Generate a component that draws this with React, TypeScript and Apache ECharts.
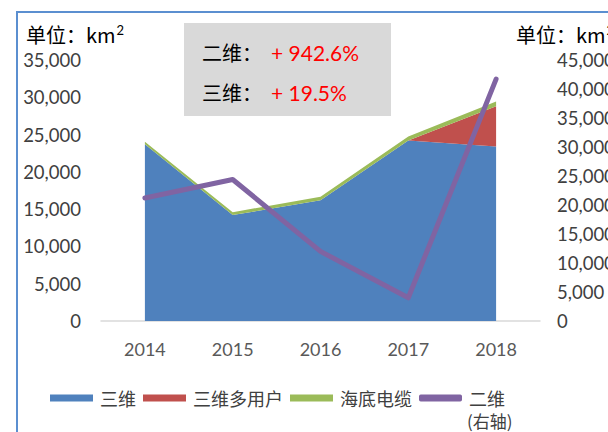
import React, { useEffect, useRef } from "react";
import * as echarts from "echarts";

const years = ["2014", "2015", "2016", "2017", "2018"];
const sanwei = [23700, 14200, 16200, 24200, 23400];
const sanweiMulti = [0, 0, 0, 0, 5400];
const cable = [350, 400, 450, 550, 650];
const erwei = [21200, 24400, 12000, 4000, 41700];

const leftTicks = { min: 0, max: 35000, interval: 5000 };
const rightTicks = { min: 0, max: 45000, interval: 5000 };

const FONT = 'Lato, "Noto Sans CJK SC", sans-serif';
const CJK = '"Noto Sans CJK SC", sans-serif';

const fmt = (v: number) => v.toLocaleString("en-US");

export default function App() {
  const ref = useRef<HTMLDivElement>(null);
  useEffect(() => {
    const chart = echarts.init(ref.current!, undefined, { renderer: "svg" });
    chart.setOption({
      animation: false,
      backgroundColor: "#ffffff",
      grid: { left: 101, right: 68, top: 60, bottom: 111, outerBoundsMode: "none", containLabel: false },
      xAxis: {
        type: "category",
        data: years,
        boundaryGap: true,
        axisLine: { lineStyle: { color: "#d9d9d9", width: 1.5 } },
        axisTick: { show: false },
        axisLabel: { color: "#595959", fontSize: 18, margin: 19, fontFamily: FONT },
      },
      yAxis: [
        {
          type: "value",
          ...leftTicks,
          splitLine: { show: false },
          axisLine: { show: false },
          axisTick: { show: false },
          axisLabel: { color: "#404040", fontSize: 18.5, margin: 20, fontFamily: FONT, formatter: fmt },
        },
        {
          type: "value",
          ...rightTicks,
          position: "right",
          splitLine: { show: false },
          axisLine: { show: false },
          axisTick: { show: false },
          axisLabel: { color: "#404040", fontSize: 18.5, margin: 17, fontFamily: FONT, formatter: fmt, align: "left" },
        },
      ],
      legend: {
        left: 50,
        top: 389,
        padding: 0,
        itemWidth: 43,
        itemHeight: 7,
        itemGap: 7,
        textStyle: { fontSize: 18, color: "#404040", fontFamily: CJK, padding: [0, 0, 0, 2] },
        data: [
          { name: "三维", icon: "rect" },
          { name: "三维多用户", icon: "rect" },
          { name: "海底电缆", icon: "rect" },
          { name: "二维", icon: "roundRect" },
        ],
      },
      series: [
        {
          name: "三维",
          type: "line",
          stack: "total",
          data: sanwei,
          showSymbol: false,
          symbol: "none",
          lineStyle: { width: 0 },
          areaStyle: { color: "#4f81bd", opacity: 1 },
          itemStyle: { color: "#4f81bd" },
        },
        {
          name: "三维多用户",
          type: "line",
          stack: "total",
          data: sanweiMulti,
          showSymbol: false,
          symbol: "none",
          lineStyle: { width: 0 },
          areaStyle: { color: "#c0504d", opacity: 1 },
          itemStyle: { color: "#c0504d" },
        },
        {
          name: "海底电缆",
          type: "line",
          stack: "total",
          data: cable,
          showSymbol: false,
          symbol: "none",
          lineStyle: { width: 0 },
          areaStyle: { color: "#9bbb59", opacity: 1 },
          itemStyle: { color: "#9bbb59" },
        },
        {
          name: "二维",
          type: "line",
          yAxisIndex: 1,
          data: erwei,
          showSymbol: false,
          symbol: "none",
          lineStyle: { width: 5, color: "#8064a2", cap: "round", join: "round" },
          itemStyle: { color: "#8064a2" },
          z: 5,
        },
      ],
      graphic: [
        {
          type: "rect",
          shape: { x: 184, y: 23, width: 207, height: 93 },
          style: { fill: "#d9d9d9" },
          z: 10,
        },
        {
          type: "text",
          x: 202,
          y: 52,
          z: 11,
          style: {
            text: "{k|二维：}{v|+ 942.6%}",
            verticalAlign: "middle",
            rich: {
              k: { fontSize: 20, fill: "#000000", fontFamily: CJK },
              v: { fontSize: 21, fill: "#ff0000", fontFamily: FONT, padding: [0, 0, 0, 9] },
            },
          },
        },
        {
          type: "text",
          x: 202,
          y: 92,
          z: 11,
          style: {
            text: "{k|三维：}{v|+ 19.5%}",
            verticalAlign: "middle",
            rich: {
              k: { fontSize: 20, fill: "#000000", fontFamily: CJK },
              v: { fontSize: 21, fill: "#ff0000", fontFamily: FONT, padding: [0, 0, 0, 9] },
            },
          },
        },
        {
          type: "text",
          x: 26,
          y: 34,
          style: {
            text: "{a|单位：km}{s|2}",
            verticalAlign: "middle",
            rich: {
              a: { fontSize: 20, fill: "#000000", fontFamily: CJK },
              s: { fontSize: 13, fill: "#000000", fontFamily: FONT, padding: [0, 0, 8, 1] },
            },
          },
        },
        {
          type: "text",
          x: 516,
          y: 34,
          style: {
            text: "{a|单位：km}{s|2}",
            verticalAlign: "middle",
            rich: {
              a: { fontSize: 20, fill: "#000000", fontFamily: CJK },
              s: { fontSize: 13, fill: "#000000", fontFamily: FONT, padding: [0, 0, 8, 1] },
            },
          },
        },
        {
          type: "text",
          x: 467,
          y: 420,
          style: { text: "(右轴)", fontSize: 17, fill: "#404040", fontFamily: CJK, verticalAlign: "middle" },
        },
        {
          type: "polyline",
          shape: { points: [[17, 432], [17, 12], [608, 12]] },
          style: { stroke: "#5b8fd0", lineWidth: 2, fill: "none" },
          z: 20,
        },
      ],
    });
    return () => chart.dispose();
  }, []);
  return (
    <div
      ref={ref}
      style={{ position: "fixed", left: 0, top: 0, width: 608, height: 432 }}
    />
  );
}
